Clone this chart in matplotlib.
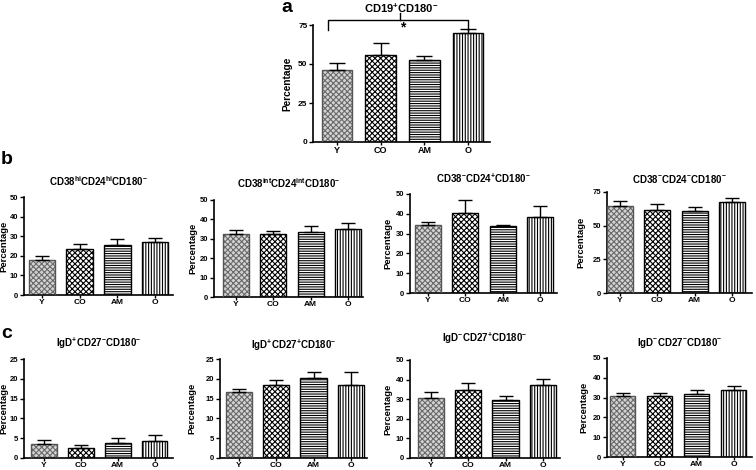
import numpy as np
import matplotlib
matplotlib.use("Agg")
import matplotlib.pyplot as plt

plt.rcParams['font.family'] = ['Liberation Sans', 'DejaVu Sans']
plt.rcParams['font.weight'] = 'bold'
plt.rcParams['mathtext.fontset'] = 'custom'
plt.rcParams['mathtext.rm'] = 'Liberation Sans:bold'
plt.rcParams['mathtext.bf'] = 'Liberation Sans:bold'
plt.rcParams['mathtext.default'] = 'bf'
plt.rcParams['hatch.linewidth'] = 0.8

groups = ['Y', 'CO', 'AM', 'O']

# means and upper SEM
a_mean = [46.0, 55.8, 52.5, 69.7]
a_sem = [4.8, 7.9, 2.5, 2.9]

b1_mean = [17.9, 23.3, 25.5, 27.2]
b1_sem = [2.1, 2.5, 2.9, 1.7]
b2_mean = [32.7, 32.4, 33.3, 34.8]
b2_sem = [1.6, 1.7, 3.5, 3.1]
b3_mean = [34.2, 40.4, 33.7, 38.4]
b3_sem = [1.7, 6.7, 0.8, 5.7]
b4_mean = [64.3, 61.8, 61.1, 67.3]
b4_sem = [3.8, 4.3, 2.5, 3.3]

c1_mean = [3.5, 2.4, 3.9, 4.3]
c1_sem = [1.0, 0.85, 1.1, 1.5]
c2_mean = [16.6, 18.5, 20.2, 18.5]
c2_sem = [0.8, 1.1, 1.6, 3.2]
c3_mean = [30.5, 34.7, 29.6, 37.2]
c3_sem = [3.0, 3.8, 2.2, 3.0]
c4_mean = [30.9, 30.6, 31.9, 34.0]
c4_sem = [1.4, 1.7, 2.1, 2.0]

titles = {
    'a': r'CD19$^{+}$CD180$^{-}$',
    'b1': r'CD38$^{hi}$CD24$^{hi}$CD180$^{-}$',
    'b2': r'CD38$^{int}$CD24$^{int}$CD180$^{-}$',
    'b3': r'CD38$^{-}$CD24$^{+}$CD180$^{-}$',
    'b4': r'CD38$^{-}$CD24$^{-}$CD180$^{-}$',
    'c1': r'IgD$^{+}$CD27$^{-}$CD180$^{-}$',
    'c2': r'IgD$^{+}$CD27$^{+}$CD180$^{-}$',
    'c3': r'IgD$^{-}$CD27$^{+}$CD180$^{-}$',
    'c4': r'IgD$^{-}$CD27$^{-}$CD180$^{-}$',
}

W, H = 756, 470
fig = plt.figure(figsize=(W / 100, H / 100), dpi=100)

# bar fill styles: (face, hatch colour, hatch, outline)
styles = [
    ('#d4d4d4', '#6a6a6a', 'xxxxxx', '#555555'),
    ('white', 'black', 'xxxxxx', 'black'),
    ('white', 'black', '-------', 'black'),
    ('white', 'black', '||||||', 'black'),
]


def panel(key, mean, sem, box, xlim, ymax, ystep, title_y, label_x,
          cap=5, fs=6, tfs=7):
    l, r, bot, top = box
    ax = fig.add_axes([l / W, 1 - bot / H, (r - l) / W, (bot - top) / H])
    x = np.arange(len(groups))
    for i in range(len(groups)):
        face, hc, hatch, edge = styles[i]
        ax.bar(x[i], mean[i], width=0.7, color=face, edgecolor=hc,
               hatch=hatch, linewidth=0, zorder=2)
        ax.bar(x[i], mean[i], width=0.7, fill=False, edgecolor=edge,
               linewidth=1.0, zorder=3)
    ax.errorbar(x, mean, yerr=[np.zeros(4), sem], fmt='none', ecolor='black',
                elinewidth=1.0, capsize=cap, capthick=1.0, zorder=4)
    ax.set_xlim(*xlim)
    ax.set_ylim(0, ymax)
    ax.set_yticks(np.arange(0, ymax + 0.1, ystep))
    ax.set_xticks(x)
    ax.set_xticklabels(groups, fontsize=fs, fontweight='bold')
    ax.tick_params(axis='y', labelsize=fs - 0.5, length=3, width=1, pad=1)
    ax.tick_params(axis='x', length=2, width=1, pad=1)
    for s in ['top', 'right']:
        ax.spines[s].set_visible(False)
    for s in ['left', 'bottom']:
        ax.spines[s].set_linewidth(1.2)
    ax.set_ylabel('Percentage', fontsize=fs + 0.8, fontweight='bold')
    ax.yaxis.set_label_coords((label_x - l) / (r - l), 0.5)
    fig.text((l + r) / 2 / W, 1 - title_y / H, titles[key], fontsize=tfs,
             fontweight='bold', ha='center', va='center')
    return ax


ax_a = panel('a', a_mean, a_sem, (313, 490, 142, 25), (-0.55, 3.5), 75, 25, 8,
             292, cap=6, fs=6.5, tfs=8)
panel('b1', b1_mean, b1_sem, (24, 173, 295, 197), (-0.47, 3.47), 50, 10, 181, 8)
panel('b2', b2_mean, b2_sem, (214, 363, 297, 200), (-0.59, 3.4), 50, 10, 183, 197)
panel('b3', b3_mean, b3_sem, (410, 557, 293, 194), (-0.48, 3.45), 50, 10, 178, 392)
panel('b4', b4_mean, b4_sem, (607, 752, 293, 192), (-0.35, 3.54), 75, 25, 179, 585)
panel('c1', c1_mean, c1_sem, (24, 173, 458, 359), (-0.54, 3.5), 25, 5, 343, 8)
panel('c2', c2_mean, c2_sem, (220, 367, 458, 359), (-0.5, 3.43), 25, 5, 345, 196)
panel('c3', c3_mean, c3_sem, (410, 560, 458, 360), (-0.56, 3.46), 50, 10, 338, 392)
panel('c4', c4_mean, c4_sem, (607, 752, 457, 358), (-0.42, 3.5), 50, 10, 343, 588)

# significance bracket for panel a (Y vs O)
ax_a.plot([-0.2, -0.2, 3, 3], [72, 78.5, 78.5, 72], color='black',
          lw=1.0, clip_on=False)
ax_a.plot([1.45, 1.45], [78.5, 82.5], color='black', lw=1.0, clip_on=False)
ax_a.text(1.5, 73.5, '*', ha='center', va='center', fontsize=10,
          fontweight='bold')

# panel letters
fig.text(287 / W, 1 - 8 / H, 'a', fontsize=14, fontweight='bold',
         ha='center', va='center')
fig.text(7 / W, 1 - 160 / H, 'b', fontsize=14, fontweight='bold',
         ha='center', va='center')
fig.text(7 / W, 1 - 333 / H, 'c', fontsize=14, fontweight='bold',
         ha='center', va='center')

fig.savefig('out.png', dpi=100)
